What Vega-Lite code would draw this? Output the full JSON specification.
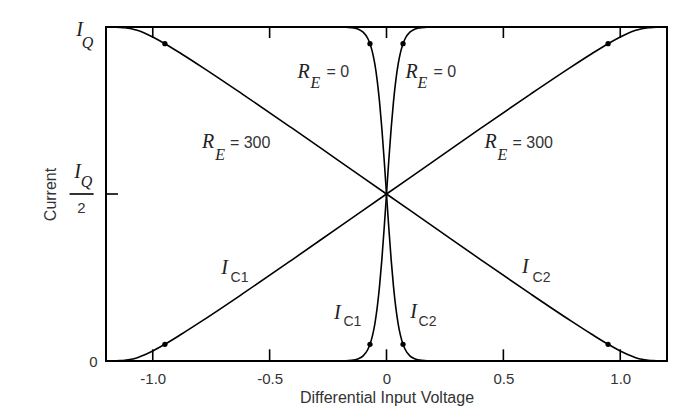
{
  "$schema": "https://vega.github.io/schema/vega-lite/v6.json",
  "width": 561,
  "height": 334,
  "autosize": {"type": "none"},
  "padding": {"left": 106, "top": 27, "right": 24, "bottom": 51},
  "background": "white",
  "config": {
    "view": {"stroke": "black", "strokeWidth": 2},
    "axis": {
      "grid": false,
      "domain": false,
      "ticks": false,
      "tickSize": 0,
      "labelFont": "Liberation Sans",
      "labelColor": "#333",
      "titleFont": "Liberation Sans",
      "titleFontWeight": "normal",
      "titleColor": "#333"
    }
  },
  "datasets": {
    "curves": [
      {"re": "300", "x": -1.2, "ic1": 0.0001, "ic2": 0.9999},
      {"re": "300", "x": -1.156, "ic1": 0.0005, "ic2": 0.9995},
      {"re": "300", "x": -1.139, "ic1": 0.001, "ic2": 0.999},
      {"re": "300", "x": -1.12, "ic1": 0.002, "ic2": 0.998},
      {"re": "300", "x": -1.092, "ic1": 0.005, "ic2": 0.995},
      {"re": "300", "x": -1.066, "ic1": 0.01, "ic2": 0.99},
      {"re": "300", "x": -1.029, "ic1": 0.02, "ic2": 0.98},
      {"re": "300", "x": -1.0, "ic1": 0.03, "ic2": 0.97},
      {"re": "300", "x": -0.948, "ic1": 0.05, "ic2": 0.95},
      {"re": "300", "x": -0.878, "ic1": 0.08, "ic2": 0.92},
      {"re": "300", "x": -0.789, "ic1": 0.12, "ic2": 0.88},
      {"re": "300", "x": -0.618, "ic1": 0.2, "ic2": 0.8},
      {"re": "300", "x": -0.41, "ic1": 0.3, "ic2": 0.7},
      {"re": "300", "x": -0.205, "ic1": 0.4, "ic2": 0.6},
      {"re": "300", "x": 0, "ic1": 0.5, "ic2": 0.5},
      {"re": "300", "x": 0.205, "ic1": 0.6, "ic2": 0.4},
      {"re": "300", "x": 0.41, "ic1": 0.7, "ic2": 0.3},
      {"re": "300", "x": 0.618, "ic1": 0.8, "ic2": 0.2},
      {"re": "300", "x": 0.789, "ic1": 0.88, "ic2": 0.12},
      {"re": "300", "x": 0.878, "ic1": 0.92, "ic2": 0.08},
      {"re": "300", "x": 0.948, "ic1": 0.95, "ic2": 0.05},
      {"re": "300", "x": 1.0, "ic1": 0.97, "ic2": 0.03},
      {"re": "300", "x": 1.029, "ic1": 0.98, "ic2": 0.02},
      {"re": "300", "x": 1.066, "ic1": 0.99, "ic2": 0.01},
      {"re": "300", "x": 1.092, "ic1": 0.995, "ic2": 0.005},
      {"re": "300", "x": 1.12, "ic1": 0.998, "ic2": 0.002},
      {"re": "300", "x": 1.139, "ic1": 0.999, "ic2": 0.001},
      {"re": "300", "x": 1.156, "ic1": 0.9995, "ic2": 0.0005},
      {"re": "300", "x": 1.2, "ic1": 0.9999, "ic2": 0.0001},
      {"re": "0", "x": -0.28, "ic1": 0.0, "ic2": 1.0},
      {"re": "0", "x": -0.2, "ic1": 0.0002, "ic2": 0.9998},
      {"re": "0", "x": -0.15, "ic1": 0.0019, "ic2": 0.9981},
      {"re": "0", "x": -0.12, "ic1": 0.0067, "ic2": 0.9933},
      {"re": "0", "x": -0.1, "ic1": 0.0153, "ic2": 0.9847},
      {"re": "0", "x": -0.08, "ic1": 0.0344, "ic2": 0.9656},
      {"re": "0", "x": -0.07, "ic1": 0.0514, "ic2": 0.9486},
      {"re": "0", "x": -0.06, "ic1": 0.0759, "ic2": 0.9241},
      {"re": "0", "x": -0.05, "ic1": 0.1107, "ic2": 0.8893},
      {"re": "0", "x": -0.04, "ic1": 0.1589, "ic2": 0.8411},
      {"re": "0", "x": -0.03, "ic1": 0.2227, "ic2": 0.7773},
      {"re": "0", "x": -0.02, "ic1": 0.3029, "ic2": 0.6971},
      {"re": "0", "x": -0.01, "ic1": 0.3973, "ic2": 0.6027},
      {"re": "0", "x": 0, "ic1": 0.5, "ic2": 0.5},
      {"re": "0", "x": 0.01, "ic1": 0.6027, "ic2": 0.3973},
      {"re": "0", "x": 0.02, "ic1": 0.6971, "ic2": 0.3029},
      {"re": "0", "x": 0.03, "ic1": 0.7773, "ic2": 0.2227},
      {"re": "0", "x": 0.04, "ic1": 0.8411, "ic2": 0.1589},
      {"re": "0", "x": 0.05, "ic1": 0.8893, "ic2": 0.1107},
      {"re": "0", "x": 0.06, "ic1": 0.9241, "ic2": 0.0759},
      {"re": "0", "x": 0.07, "ic1": 0.9486, "ic2": 0.0514},
      {"re": "0", "x": 0.08, "ic1": 0.9656, "ic2": 0.0344},
      {"re": "0", "x": 0.1, "ic1": 0.9847, "ic2": 0.0153},
      {"re": "0", "x": 0.12, "ic1": 0.9933, "ic2": 0.0067},
      {"re": "0", "x": 0.15, "ic1": 0.9981, "ic2": 0.0019},
      {"re": "0", "x": 0.2, "ic1": 0.9998, "ic2": 0.0002},
      {"re": "0", "x": 0.28, "ic1": 1.0, "ic2": 0.0}
    ]
  },
  "layer": [
    {
      "data": {"name": "curves"},
      "transform": [{"fold": ["ic1", "ic2"], "as": ["dev", "y"]}],
      "mark": {"type": "line", "color": "black", "strokeWidth": 1.6, "interpolate": "monotone"},
      "encoding": {
        "x": {
          "field": "x",
          "type": "quantitative",
          "scale": {"domain": [-1.2, 1.2], "nice": false, "zero": false},
          "axis": {
            "values": [-1, -0.5, 0, 0.5, 1],
            "labelExpr": "datum.value == 0 ? '0' : (datum.value < 0 ? '-' + format(-datum.value, '.1f') : format(datum.value, '.1f'))",
            "labelFontSize": 15,
            "labelBaseline": "middle",
            "labelPadding": 17,
            "title": "Differential Input Voltage",
            "titleFontSize": 16,
            "titleBaseline": "middle",
            "titleY": 36
          }
        },
        "y": {
          "field": "y",
          "type": "quantitative",
          "scale": {"domain": [0, 1], "nice": false, "zero": false},
          "axis": {
            "values": [0],
            "format": "d",
            "labelFontSize": 15,
            "labelPadding": 9,
            "title": "Current",
            "titleFontSize": 16,
            "titleAngle": -90,
            "titleX": -56,
            "titleY": 167,
            "titleAlign": "center",
            "titleBaseline": "middle"
          }
        },
        "detail": [{"field": "re"}, {"field": "dev"}],
        "order": {"field": "x", "type": "quantitative"}
      }
    },
    {
      "data": {"values": [
        {"x": -0.0707, "y": 0.05}, {"x": -0.0707, "y": 0.95},
        {"x": 0.0707, "y": 0.05}, {"x": 0.0707, "y": 0.95},
        {"x": -0.948, "y": 0.05}, {"x": -0.948, "y": 0.95},
        {"x": 0.948, "y": 0.05}, {"x": 0.948, "y": 0.95}
      ]},
      "mark": {"type": "point", "filled": true, "color": "black", "size": 28, "opacity": 1},
      "encoding": {
        "x": {"field": "x", "type": "quantitative"},
        "y": {"field": "y", "type": "quantitative"}
      }
    },
    {
      "data": {"values": [
        {"x": -1, "y": 1, "x2": -1, "y2": 0.967},
        {"x": -0.5, "y": 1, "x2": -0.5, "y2": 0.967},
        {"x": 0, "y": 1, "x2": 0, "y2": 0.967},
        {"x": 0.5, "y": 1, "x2": 0.5, "y2": 0.967},
        {"x": 1, "y": 1, "x2": 1, "y2": 0.967},
        {"x": -1, "y": 0, "x2": -1, "y2": 0.035},
        {"x": -0.5, "y": 0, "x2": -0.5, "y2": 0.035},
        {"x": 0, "y": 0, "x2": 0, "y2": 0.035},
        {"x": 0.5, "y": 0, "x2": 0.5, "y2": 0.035},
        {"x": 1, "y": 0, "x2": 1, "y2": 0.035},
        {"x": -1.2, "y": 0.5, "x2": -1.149, "y2": 0.5},
        {"x": -1.356, "y": 0.5, "x2": -1.253, "y2": 0.5}
      ]},
      "mark": {"type": "rule", "color": "black", "strokeWidth": 1.6},
      "encoding": {
        "x": {"field": "x", "type": "quantitative"},
        "y": {"field": "y", "type": "quantitative"},
        "x2": {"field": "x2"},
        "y2": {"field": "y2"}
      }
    },
    {
      "data": {"values": [
        {"x": -0.355, "y": 0.865, "t": "R"},
        {"x": 0.107, "y": 0.865, "t": "R"},
        {"x": -0.763, "y": 0.656, "t": "R"},
        {"x": 0.445, "y": 0.656, "t": "R"},
        {"x": -0.693, "y": 0.278, "t": "I"},
        {"x": 0.594, "y": 0.281, "t": "I"},
        {"x": -0.21, "y": 0.144, "t": "I"},
        {"x": 0.116, "y": 0.147, "t": "I"},
        {"x": -1.313, "y": 0.991, "t": "I"},
        {"x": -1.322, "y": 0.566, "t": "I"}
      ]},
      "mark": {"type": "text", "font": "Liberation Serif", "fontStyle": "italic", "fontSize": 20, "color": "#222", "align": "center", "baseline": "middle"},
      "encoding": {
        "x": {"field": "x", "type": "quantitative"},
        "y": {"field": "y", "type": "quantitative"},
        "text": {"field": "t"}
      }
    },
    {
      "data": {"values": [
        {"x": -0.304, "y": 0.832, "t": "E"},
        {"x": 0.154, "y": 0.832, "t": "E"},
        {"x": -0.712, "y": 0.617, "t": "E"},
        {"x": 0.496, "y": 0.617, "t": "E"},
        {"x": -1.279, "y": 0.952, "t": "Q"},
        {"x": -1.283, "y": 0.536, "t": "Q"}
      ]},
      "mark": {"type": "text", "font": "Liberation Serif", "fontStyle": "italic", "fontSize": 16, "color": "#222", "align": "center", "baseline": "middle"},
      "encoding": {
        "x": {"field": "x", "type": "quantitative"},
        "y": {"field": "y", "type": "quantitative"},
        "text": {"field": "t"}
      }
    },
    {
      "data": {"values": [
        {"x": -0.257, "y": 0.865, "t": "= 0"},
        {"x": 0.201, "y": 0.865, "t": "= 0"},
        {"x": -0.67, "y": 0.653, "t": "= 300"},
        {"x": 0.539, "y": 0.653, "t": "= 300"}
      ]},
      "mark": {"type": "text", "font": "Liberation Sans", "fontSize": 16, "color": "#333", "align": "left", "baseline": "middle"},
      "encoding": {
        "x": {"field": "x", "type": "quantitative"},
        "y": {"field": "y", "type": "quantitative"},
        "text": {"field": "t"}
      }
    },
    {
      "data": {"values": [
        {"x": -0.667, "y": 0.249, "t": "C1"},
        {"x": 0.625, "y": 0.249, "t": "C2"},
        {"x": -0.184, "y": 0.117, "t": "C1"},
        {"x": 0.137, "y": 0.117, "t": "C2"}
      ]},
      "mark": {"type": "text", "font": "Liberation Sans", "fontSize": 14, "color": "#333", "align": "left", "baseline": "middle"},
      "encoding": {
        "x": {"field": "x", "type": "quantitative"},
        "y": {"field": "y", "type": "quantitative"},
        "text": {"field": "t"}
      }
    },
    {
      "data": {"values": [{"x": -1.305, "y": 0.458, "t": "2"}]},
      "mark": {"type": "text", "font": "Liberation Sans", "fontSize": 15, "color": "#333", "align": "center", "baseline": "middle"},
      "encoding": {
        "x": {"field": "x", "type": "quantitative"},
        "y": {"field": "y", "type": "quantitative"},
        "text": {"field": "t"}
      }
    }
  ]
}
